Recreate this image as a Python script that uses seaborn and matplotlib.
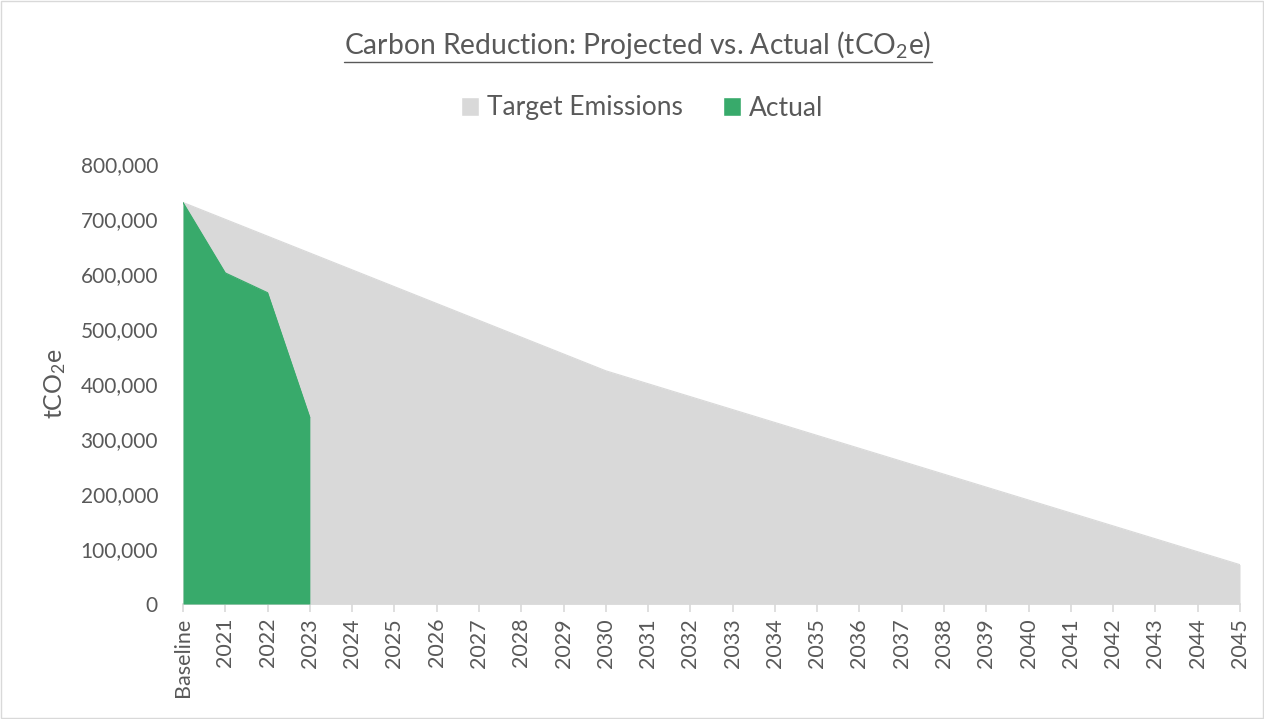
import matplotlib
matplotlib.use("Agg")
import matplotlib.pyplot as plt
import seaborn as sns
import pandas as pd
from matplotlib.patches import Patch, Rectangle
from matplotlib.lines import Line2D
from matplotlib.ticker import FuncFormatter

# ---- data ----
years = ["Baseline", "2021", "2022", "2023", "2024", "2025", "2026", "2027",
         "2028", "2029", "2030", "2031", "2032", "2033", "2034", "2035",
         "2036", "2037", "2038", "2039", "2040", "2041", "2042", "2043",
         "2044", "2045"]
target = [730000, 699400, 668800, 638200, 607600, 577000, 546400, 515800,
          485200, 454600, 424000, 400500, 377000, 353500, 330000, 306500,
          283000, 259500, 236000, 212500, 189000, 165500, 142000, 118500,
          95000, 71500]
actual_years = ["Baseline", "2021", "2022", "2023"]
actual = [730000, 602000, 566000, 339000]

gray = "#d9d9d9"
green = "#38aa6b"
text_col = "#595959"

sns.set_theme(style="white")
plt.rcParams["font.family"] = ["Lato", "DejaVu Sans"]
plt.rcParams["mathtext.fontset"] = "custom"
plt.rcParams["mathtext.rm"] = "Lato"
plt.rcParams["mathtext.it"] = "Lato"

df_t = pd.DataFrame({"x": range(len(years)), "y": target})
df_a = pd.DataFrame({"x": range(len(actual_years)), "y": actual})

fig = plt.figure(figsize=(12.64, 7.19), dpi=100)
ax = fig.add_axes([183 / 1264, 1 - 604 / 719, (1240 - 183) / 1264, (604 - 164) / 719])

# areas
ax.fill_between(df_t["x"], df_t["y"], color=gray, linewidth=0, zorder=1)
sns.lineplot(data=df_t, x="x", y="y", ax=ax, color=gray, linewidth=0.8, zorder=2)
ax.fill_between(df_a["x"], df_a["y"], color=green, linewidth=0, zorder=3)
sns.lineplot(data=df_a, x="x", y="y", ax=ax, color=green, linewidth=0.8, zorder=4)

ax.set_xlim(0, len(years) - 1)
ax.set_ylim(0, 800000)
ax.set_xticks(range(len(years)))
ax.set_xticklabels(years, rotation=90, fontsize=15.5, color=text_col)
ax.set_yticks(range(0, 800001, 100000))
ax.yaxis.set_major_formatter(FuncFormatter(lambda v, p: f"{int(v):,}"))
ax.tick_params(axis="y", length=0, pad=18, labelsize=15, labelcolor=text_col)
ax.tick_params(axis="x", length=6, width=1.2, color=gray, pad=4, bottom=True)
ax.set_xlabel("")
ax.set_ylabel("tCO$_2$e", fontsize=18, color=text_col, labelpad=9)

for s in ["top", "right", "left"]:
    ax.spines[s].set_visible(False)
ax.spines["bottom"].set_color(gray)
ax.spines["bottom"].set_linewidth(1.2)

# title with underline
title = fig.text(0.5048, 1 - 45 / 719, "Carbon Reduction: Projected vs. Actual (tCO$_2$e)",
                 ha="center", va="center", fontsize=20.3, color=text_col)
fig.canvas.draw()
bb = title.get_window_extent().transformed(fig.transFigure.inverted())
fig.add_artist(Line2D([bb.x0, bb.x1], [1 - 62 / 719, 1 - 62 / 719],
                      color=text_col, linewidth=1))

handles = [Patch(facecolor=gray, label="Target Emissions"),
           Patch(facecolor=green, label="Actual")]
fig.legend(handles=handles, loc="center", bbox_to_anchor=(0.508, 1 - 108 / 719),
           ncol=2, frameon=False, fontsize=19, handlelength=0.7, handleheight=0.7,
           handletextpad=0.3, columnspacing=1.5, labelcolor=text_col)

fig.add_artist(Rectangle((0.001, 0.001), 0.998, 0.997, transform=fig.transFigure,
                         fill=False, edgecolor=gray, linewidth=1))

fig.savefig("out.png", dpi=100)
